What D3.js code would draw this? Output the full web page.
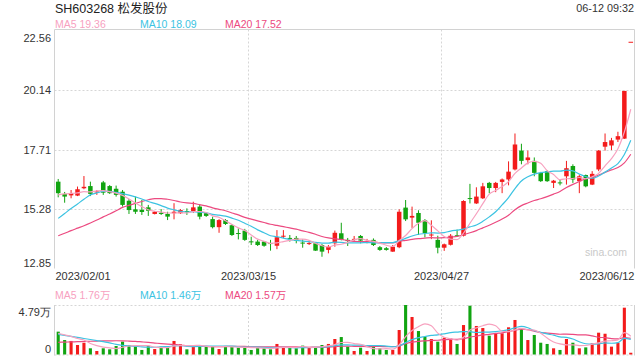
<!DOCTYPE html>
<html><head><meta charset="utf-8">
<script src="https://cdn.jsdelivr.net/npm/d3@7"></script>
<style>
body{margin:0;background:#fff;}
svg{display:block;font-family:"Liberation Sans",Arial,"Noto Sans CJK SC",sans-serif;}
</style>
</head><body>
<svg id="c" width="640" height="360"></svg>
<script>
// ---------------- data ----------------
const stockTitle = "SH603268 松发股份";
const stamp = "06-12 09:32";
const dateLabels = ["2023/02/01","2023/03/15","2023/04/27","2023/06/12"];
const dateTickIdx = [0,30,60,90];
const priceTicks = [22.56,20.14,17.71,15.28,12.85];
const volMax = 4.79;
const volTicks = [4.79,0];

const opens = [16.40,15.90,15.84,15.83,16.13,16.22,15.96,16.37,16.22,16.11,15.99,15.62,15.27,15.25,15.35,15.08,15.13,15.08,15.11,15.11,
15.20,15.20,15.38,15.11,14.87,14.54,14.83,14.62,14.30,14.40,13.96,13.95,13.95,13.89,13.78,14.17,14.10,14.10,13.91,13.86,
13.88,13.81,13.61,13.88,14.29,14.02,14.02,14.18,13.91,14.02,13.72,13.68,13.54,13.72,15.34,14.93,15.12,14.82,14.20,14.02,
13.70,13.82,14.21,14.19,15.73,15.51,15.72,16.35,16.14,16.39,16.49,16.90,17.67,17.28,17.25,16.76,16.83,16.35,16.37,16.62,
17.04,16.42,16.67,16.28,16.90,17.83,17.88,18.12,18.16,22.12];
const highs = [16.51,15.98,16.06,16.20,16.63,16.40,16.06,16.43,16.26,16.24,16.06,15.69,15.79,15.65,15.45,15.20,15.28,15.17,15.52,15.28,
15.31,15.58,15.45,15.16,14.97,14.87,14.87,14.67,14.49,14.47,14.15,14.02,13.97,14.02,14.42,14.42,14.22,14.18,14.04,13.95,
13.89,13.85,13.81,14.40,14.72,14.10,14.18,14.22,14.06,14.08,13.77,13.73,13.81,15.27,15.65,15.38,15.23,14.87,14.82,14.19,
13.87,14.26,14.44,15.64,16.31,16.17,16.35,16.39,16.39,16.53,17.23,18.37,17.95,17.67,17.39,16.80,16.86,16.47,16.49,17.25,
17.11,16.67,16.69,16.83,17.69,18.37,18.19,18.44,20.11,22.12];
const lows = [15.76,15.54,15.72,15.81,16.09,15.81,15.86,15.86,15.90,15.79,15.38,15.08,15.08,15.04,15.00,15.06,15.04,14.83,14.86,15.08,
15.04,15.13,14.86,14.96,14.49,14.31,14.63,14.18,14.04,13.98,13.81,13.77,13.74,13.58,13.64,14.09,13.95,13.88,13.70,13.81,
13.57,13.33,13.47,13.74,14.00,13.77,13.95,13.88,13.88,13.77,13.57,13.58,13.53,13.68,14.79,14.51,14.22,14.12,14.05,13.47,
13.57,13.79,14.14,14.16,15.51,15.49,15.69,15.93,15.97,15.93,16.25,16.86,17.11,17.11,16.62,16.39,16.39,16.14,16.25,16.28,
16.35,15.93,16.17,16.26,16.83,17.67,17.69,18.02,18.15,22.12];
const closes = [15.93,15.79,15.93,16.09,16.19,15.90,16.00,15.95,15.93,15.86,15.45,15.24,15.17,15.16,15.21,15.17,15.08,14.97,15.17,15.24,
15.15,15.35,14.97,15.00,14.54,14.83,14.67,14.22,14.27,14.02,13.93,13.81,13.78,13.85,14.13,14.19,14.07,13.99,13.88,13.89,
13.58,13.54,13.74,14.31,14.02,13.97,14.06,13.99,13.96,13.81,13.61,13.61,13.74,15.17,14.86,15.00,14.72,14.30,14.24,13.70,
13.84,14.19,14.18,15.61,15.69,15.79,16.21,16.14,16.35,16.49,16.81,17.92,17.25,17.39,16.76,16.42,16.42,16.44,16.35,16.95,
16.49,16.62,16.21,16.72,17.67,18.02,18.09,18.26,20.11,22.12];
// volume in 万 (10k shares)
const volumes = [2.21,1.40,1.31,0.92,1.14,0.60,0.34,0.60,0.50,0.82,1.24,0.92,0.82,0.44,0.82,0.53,0.76,0.76,1.31,0.98,
0.50,0.76,0.92,0.82,0.76,0.53,0.82,0.76,0.66,0.69,0.44,0.69,0.60,0.50,1.02,0.66,0.66,0.60,0.86,0.69,
0.66,0.92,1.02,1.50,1.69,0.76,0.34,0.66,0.34,0.76,0.60,0.44,0.44,2.37,4.79,3.63,2.27,1.72,1.50,1.24,
1.63,1.56,1.02,2.85,4.72,2.76,2.56,1.82,2.05,2.05,2.63,3.34,2.53,1.40,1.89,1.14,1.02,0.60,0.44,1.50,
1.14,0.60,0.69,1.08,2.11,2.01,0.76,1.14,4.53,0.17];

const ma5 = [15.86,15.90,15.92,15.94,15.99,15.98,16.02,16.03,15.99,15.93,15.84,15.69,15.53,15.38,15.25,15.19,15.16,15.12,15.12,15.13,
15.12,15.18,15.18,15.14,15.00,14.94,14.80,14.65,14.51,14.40,14.22,14.05,13.96,13.88,13.90,13.95,14.00,14.05,14.05,14.00,
13.88,13.78,13.73,13.81,13.84,13.92,14.02,14.07,14.00,13.96,13.89,13.80,13.75,13.99,14.20,14.48,14.70,14.81,14.62,14.39,
14.16,14.05,14.03,14.30,14.70,15.09,15.50,15.89,16.04,16.20,16.40,16.74,16.96,17.17,17.23,17.15,16.85,16.69,16.48,16.52,
16.53,16.57,16.52,16.60,16.74,17.05,17.34,17.75,18.43,19.36];
const ma10 = [14.90,15.10,15.30,15.49,15.68,15.86,15.94,16.00,16.00,15.96,15.91,15.85,15.78,15.69,15.59,15.51,15.42,15.32,15.25,15.19,
15.16,15.17,15.15,15.13,15.06,15.03,14.99,14.91,14.82,14.70,14.58,14.43,14.31,14.19,14.15,14.09,14.03,14.00,13.97,13.95,
13.92,13.89,13.89,13.93,13.92,13.90,13.90,13.90,13.91,13.90,13.90,13.91,13.91,13.99,14.08,14.18,14.25,14.28,14.31,14.30,
14.32,14.38,14.42,14.46,14.55,14.63,14.78,14.96,15.17,15.45,15.75,16.12,16.43,16.60,16.71,16.77,16.80,16.83,16.83,16.87,
16.84,16.71,16.61,16.54,16.63,16.79,16.96,17.14,17.51,18.09];
const ma20 = [14.19,14.29,14.40,14.50,14.60,14.71,14.83,14.96,15.08,15.21,15.35,15.43,15.51,15.59,15.66,15.71,15.71,15.68,15.63,15.57,
15.53,15.51,15.46,15.41,15.33,15.27,15.21,15.12,15.04,14.94,14.87,14.80,14.73,14.66,14.61,14.56,14.51,14.46,14.39,14.33,
14.25,14.16,14.10,14.06,14.04,13.99,13.96,13.95,13.94,13.93,13.91,13.90,13.90,13.96,14.00,14.04,14.07,14.09,14.11,14.10,
14.11,14.14,14.16,14.23,14.31,14.40,14.51,14.62,14.74,14.87,15.03,15.25,15.42,15.53,15.63,15.70,15.79,15.89,16.00,16.16,
16.29,16.41,16.52,16.57,16.67,16.78,16.88,16.98,17.17,17.52];
const volMa5 = [2.05,1.90,1.75,1.55,1.40,1.07,0.86,0.72,0.64,0.57,0.70,0.82,0.86,0.85,0.85,0.71,0.67,0.66,0.84,0.87,
0.86,0.86,0.89,0.80,0.75,0.76,0.77,0.74,0.71,0.69,0.67,0.65,0.62,0.58,0.65,0.69,0.69,0.69,0.76,0.69,
0.69,0.75,0.83,0.96,1.16,1.18,1.06,0.99,0.76,0.57,0.54,0.56,0.52,0.92,1.73,2.33,2.70,2.96,2.78,2.07,
1.67,1.53,1.39,1.66,2.36,2.58,2.78,2.94,2.78,2.25,2.22,2.38,2.52,2.39,2.36,2.06,1.60,1.21,1.02,0.94,
0.94,0.86,0.87,1.00,1.12,1.30,1.33,1.42,2.11,1.76];
const volMa10 = [1.95,1.85,1.75,1.65,1.55,1.45,1.35,1.25,1.12,0.98,0.89,0.84,0.79,0.74,0.71,0.70,0.75,0.76,0.84,0.86,
0.78,0.77,0.78,0.82,0.81,0.81,0.82,0.82,0.75,0.72,0.72,0.71,0.68,0.65,0.67,0.68,0.67,0.65,0.67,0.67,
0.69,0.72,0.76,0.86,0.93,0.94,0.90,0.91,0.86,0.87,0.86,0.81,0.75,0.84,1.15,1.44,1.63,1.74,1.85,1.90,
2.00,2.12,2.17,2.22,2.21,2.13,2.16,2.17,2.22,2.30,2.40,2.58,2.73,2.59,2.30,2.14,1.99,1.87,1.70,1.65,
1.50,1.23,1.04,1.01,1.03,1.12,1.09,1.15,1.56,1.46];
const volMa20 = [1.18,1.20,1.22,1.24,1.26,1.28,1.30,1.31,1.32,1.33,1.32,1.30,1.27,1.22,1.17,1.11,1.05,1.00,0.96,0.92,
0.84,0.80,0.78,0.78,0.76,0.76,0.78,0.79,0.80,0.79,0.75,0.74,0.73,0.73,0.74,0.75,0.74,0.73,0.71,0.70,
0.71,0.71,0.72,0.75,0.80,0.81,0.79,0.78,0.77,0.77,0.78,0.76,0.76,0.85,1.04,1.19,1.27,1.32,1.36,1.38,
1.43,1.46,1.46,1.53,1.68,1.78,1.89,1.95,2.04,2.10,2.20,2.35,2.45,2.40,2.26,2.13,2.07,2.02,1.96,1.98,
1.95,1.90,1.89,1.80,1.67,1.63,1.54,1.51,1.63,1.57];

// ---------------- style ----------------
const RED = "#f31b1b", GREEN = "#11a411";
const C5 = "#f7a1bf", C10 = "#3cc3e2", C20 = "#ec4a80";
const GRID = "#d6d6d6", BORDER = "#d2d2d2", TXT = "#333";

const svg = d3.select("#c");
const left = 54.5, right = 634.5;
const pTop = 29.5, pBot = 268.5;
const vTop = 305, vBot = 354.5;

const n = closes.length;
const xEdge = d3.scaleLinear().domain([0, n]).range([55, 634]);
const cx = i => xEdge(i + 0.5);
const step = xEdge(1) - xEdge(0);
const bw = step * 0.7;

const y = d3.scaleLinear().domain([12.85, 22.56]).range([268.5, 31]);
const yv = d3.scaleLinear().domain([0, volMax]).range([vBot, vTop]);

// header
svg.append("text").attr("x", 55).attr("y", 12.5).attr("font-size", 12.5).attr("fill", "#222").text(stockTitle);
svg.append("text").attr("x", 634).attr("y", 12).attr("font-size", 10.8).attr("fill", TXT)
  .attr("text-anchor", "end").text(stamp);

function legend(yPos, items) {
  items.forEach(it => {
    svg.append("text").attr("x", it.x).attr("y", yPos).attr("font-size", 10.5)
      .attr("fill", it.c).text(it.t);
  });
}
legend(27.5, [
  {x: 55, c: C5, t: "MA5 " + ma5[n-1].toFixed(2)},
  {x: 140, c: C10, t: "MA10 " + ma10[n-1].toFixed(2)},
  {x: 225, c: C20, t: "MA20 " + ma20[n-1].toFixed(2)}
]);
legend(298.5, [
  {x: 55, c: C5, t: "MA5 " + volMa5[n-1].toFixed(2) + "万"},
  {x: 140, c: C10, t: "MA10 " + volMa10[n-1].toFixed(2) + "万"},
  {x: 225, c: C20, t: "MA20 " + volMa20[n-1].toFixed(2) + "万"}
]);

// price panel frame & grid
const pg = svg.append("g");
[20.14, 17.71, 15.28].forEach(v => {
  pg.append("line").attr("x1", left).attr("x2", right).attr("y1", Math.round(y(v)) + 0.5).attr("y2", Math.round(y(v)) + 0.5)
    .attr("stroke", GRID).attr("stroke-dasharray", "2,2");
});
[30, 60].forEach(i => {
  const xx = Math.round(xEdge(i)) + 0.5;
  pg.append("line").attr("x1", xx).attr("x2", xx).attr("y1", pTop).attr("y2", pBot)
    .attr("stroke", GRID).attr("stroke-dasharray", "2,2");
});
pg.append("path").attr("d", `M${left},${pBot}V${pTop}H${right}V${pBot}`)
  .attr("fill", "none").attr("stroke", BORDER);

// price axis labels
const ay = svg.append("g").attr("transform", `translate(55,0)`)
  .call(d3.axisLeft(y).tickValues(priceTicks).tickSize(0).tickPadding(4).tickFormat(d3.format(".2f")));
ay.select(".domain").remove();
ay.selectAll("text").attr("font-size", 11).attr("fill", TXT).attr("font-family", null)
  .attr("dy", d => d === 22.56 ? "0.95em" : d === 12.85 ? "-0.15em" : "0.32em");

// watermark
svg.append("text").attr("x", 627).attr("y", 255.5).attr("text-anchor", "end")
  .attr("font-size", 10.5).attr("fill", "#c9c9c9").text("sina.com");

// candles
const cg = svg.append("g");
for (let i = 0; i < n; i++) {
  const up = closes[i] >= opens[i];
  const col = up ? RED : GREEN;
  cg.append("line").attr("x1", cx(i)).attr("x2", cx(i)).attr("y1", y(highs[i])).attr("y2", y(lows[i]))
    .attr("stroke", col).attr("stroke-width", 1);
  const top = y(Math.max(opens[i], closes[i]));
  const h = Math.max(1, Math.abs(y(opens[i]) - y(closes[i])));
  cg.append("rect").attr("x", cx(i) - bw / 2).attr("y", top).attr("width", bw).attr("height", h).attr("fill", col);
}

// MA lines
const line = d3.line().x((d, i) => cx(i)).y(d => y(d)).curve(d3.curveMonotoneX);
[[ma20, C20], [ma10, C10], [ma5, C5]].forEach(([arr, c]) => {
  svg.append("path").attr("d", line(arr)).attr("fill", "none").attr("stroke", c).attr("stroke-width", 1.2);
});

// date axis
const ax = svg.append("g").attr("transform", `translate(0,${pBot})`)
  .call(d3.axisBottom(xEdge).tickValues(dateTickIdx).tickSize(0).tickPadding(4)
    .tickFormat((d, k) => dateLabels[k]));
ax.select(".domain").remove();
ax.selectAll("text").attr("font-size", 11).attr("fill", TXT).attr("font-family", null)
  .attr("text-anchor", (d, k) => k === 0 ? "start" : k === dateTickIdx.length - 1 ? "end" : "middle");

// volume panel frame & grid
const vg = svg.append("g");
vg.append("line").attr("x1", left).attr("x2", right).attr("y1", vTop + 0.5).attr("y2", vTop + 0.5)
  .attr("stroke", GRID).attr("stroke-dasharray", "2,2");
vg.append("line").attr("x1", left).attr("x2", right).attr("y1", vBot + 0.5).attr("y2", vBot + 0.5)
  .attr("stroke", GRID).attr("stroke-dasharray", "2,2");
[30, 60].forEach(i => {
  const xx = Math.round(xEdge(i)) + 0.5;
  vg.append("line").attr("x1", xx).attr("x2", xx).attr("y1", vTop).attr("y2", vBot)
    .attr("stroke", GRID).attr("stroke-dasharray", "2,2");
});
vg.append("line").attr("x1", left).attr("x2", left).attr("y1", vTop).attr("y2", vBot + 1).attr("stroke", BORDER);
vg.append("line").attr("x1", right).attr("x2", right).attr("y1", vTop).attr("y2", vBot + 1).attr("stroke", BORDER);

const avy = svg.append("g").attr("transform", `translate(55,0)`)
  .call(d3.axisLeft(yv).tickValues(volTicks).tickSize(0).tickPadding(4)
    .tickFormat(d => d === 0 ? "0" : d.toFixed(2) + "万"));
avy.select(".domain").remove();
avy.selectAll("text").attr("font-size", 11).attr("fill", TXT).attr("font-family", null)
  .attr("dy", d => d === 0 ? "-0.2em" : "0.95em");

// volume bars
const vb = svg.append("g");
const vw = step * 0.48;
for (let i = 0; i < n; i++) {
  const col = closes[i] >= opens[i] ? RED : GREEN;
  vb.append("rect").attr("x", cx(i) - vw / 2).attr("y", yv(volumes[i]))
    .attr("width", vw).attr("height", yv(0) - yv(volumes[i])).attr("fill", col);
}
const vline = d3.line().x((d, i) => cx(i)).y(d => yv(d)).curve(d3.curveMonotoneX);
[[volMa20, C20], [volMa10, C10], [volMa5, C5]].forEach(([arr, c]) => {
  svg.append("path").attr("d", vline(arr)).attr("fill", "none").attr("stroke", c).attr("stroke-width", 1.2);
});
</script>
</body></html>
